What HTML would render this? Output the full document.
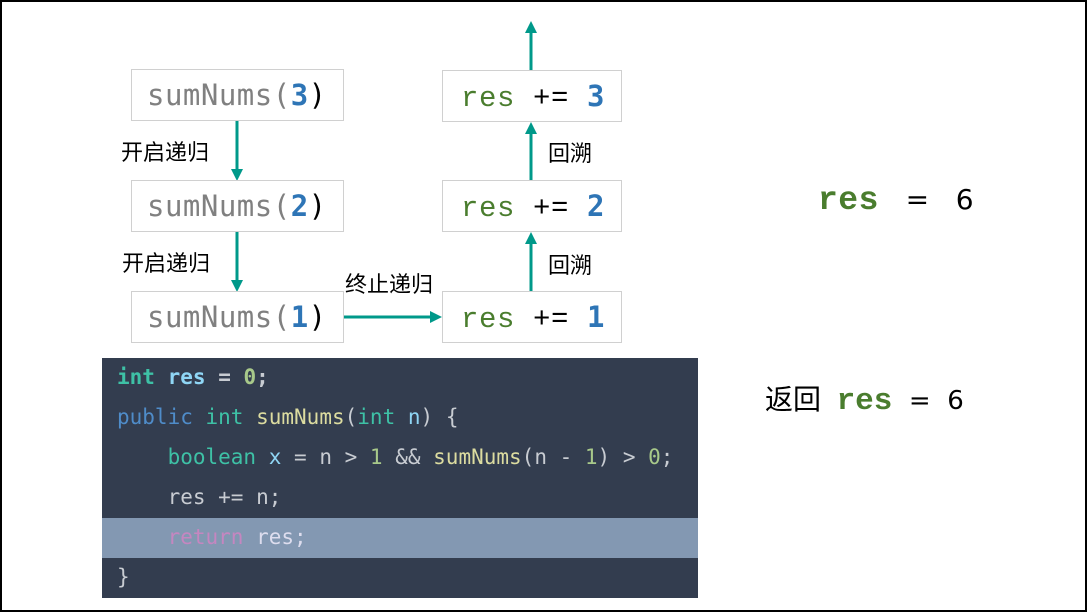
<!DOCTYPE html>
<html><head><meta charset="utf-8"><style>
html,body{margin:0;width:1087px;height:612px;overflow:hidden}
body{background:#fff;position:relative;font-family:"Liberation Sans","Noto Sans CJK SC",sans-serif}
.frame{position:absolute;left:0;top:0;width:1083px;height:608px;border:2px solid #000}
.box{position:absolute;border:1px solid #d0d0d0;background:#fff;box-sizing:border-box;white-space:pre;line-height:50px}
.l{left:131px;width:213px;height:52px;font-family:"DejaVu Sans Mono",monospace;font-size:29px;color:#808080;padding-left:15px;letter-spacing:0.5px}
.r{left:442px;width:180px;height:52px;font-family:"Liberation Mono",monospace;font-size:29px;color:#000;padding-left:18px;letter-spacing:0.6px}
.g{color:#4a7d2e}
.b{color:#2e75b6;font-weight:bold;font-family:"DejaVu Sans Mono",monospace}
.k{color:#000}
.lab{position:absolute;font-size:22px;color:#000;font-family:"Noto Sans CJK SC",sans-serif;line-height:26px}
.code{position:absolute;left:102px;top:358px;width:596px;height:240px;background:#333d4f;font-family:"DejaVu Sans Mono",monospace;font-size:21px;color:#c8ccd2}
.code div{height:40px;line-height:38px;padding-left:15px;white-space:pre}
.hl{background:#8398b2}
</style></head><body>
<div class="frame"></div>
<svg width="1087" height="612" style="position:absolute;left:0;top:0">
<g stroke="#00998a" stroke-width="3" fill="#00998a">
<line x1="237" y1="121" x2="237" y2="170"/><polygon points="231,169 243,169 237,181" stroke="none"/>
<line x1="237" y1="232" x2="237" y2="281"/><polygon points="231,280 243,280 237,292" stroke="none"/>
<line x1="344" y1="317" x2="432" y2="317"/><polygon points="430,311 430,323 442,317" stroke="none"/>
<line x1="531" y1="292" x2="531" y2="243"/><polygon points="525,244 537,244 531,232" stroke="none"/>
<line x1="531" y1="181" x2="531" y2="133"/><polygon points="525,134 537,134 531,122" stroke="none"/>
<line x1="531" y1="70" x2="531" y2="32"/><polygon points="525,33 537,33 531,21" stroke="none"/>
</g></svg>
<div class="box l" style="top:69px">sumNums(<span class="b">3</span><span class="k">)</span></div>
<div class="box l" style="top:180px">sumNums(<span class="b">2</span><span class="k">)</span></div>
<div class="box l" style="top:291px">sumNums(<span class="b">1</span><span class="k">)</span></div>
<div class="box r" style="top:70px"><span class="g">res</span> += <span class="b">3</span></div>
<div class="box r" style="top:180px"><span class="g">res</span> += <span class="b">2</span></div>
<div class="box r" style="top:291px"><span class="g">res</span> += <span class="b">1</span></div>
<div class="lab" style="left:121px;top:138px">开启递归</div>
<div class="lab" style="left:122px;top:249px">开启递归</div>
<div class="lab" style="left:345px;top:270px">终止递归</div>
<div class="lab" style="left:548px;top:139px">回溯</div>
<div class="lab" style="left:548px;top:251px">回溯</div>
<div style="position:absolute;left:818px;top:178px;font-size:33px;white-space:pre;line-height:40px"><span class="g" style="font-family:'Liberation Mono',monospace;font-weight:bold;letter-spacing:0.5px">res</span><span style="font-family:'DejaVu Sans',sans-serif;font-size:28px">   =   6</span></div>
<div style="position:absolute;left:765px;top:378px;font-size:28px;white-space:pre;line-height:40px"><span style="font-family:'Noto Sans CJK SC',sans-serif">返回</span>  <span class="g" style="font-family:'Liberation Mono',monospace;font-weight:bold;font-size:31px">res</span><span style="font-family:'DejaVu Sans',sans-serif;font-size:26px">  =  6</span></div>
<div class="code"><div><b style="color:#3ec1a6">int</b> <b style="color:#8fd6f5">res</b> <b>=</b> <b style="color:#a8c98a">0</b><b>;</b></div><div><span style="color:#4f8cc9">public</span> <span style="color:#3ec1a6">int</span> <span style="color:#dcdca0">sumNums</span>(<span style="color:#3ec1a6">int</span> <span style="color:#8fd6f5">n</span>) {</div><div>    <span style="color:#3ec1a6">boolean</span> <span style="color:#8fd6f5">x</span> = n &gt; <span style="color:#a8c98a">1</span> &amp;&amp; <span style="color:#dcdca0">sumNums</span>(n - <span style="color:#a8c98a">1</span>) &gt; <span style="color:#a8c98a">0</span>;</div><div>    res += n;</div><div class="hl">    <span style="color:#c586c0">return</span> <span style="color:#dde">res;</span></div><div>}</div></div>
</body></html>
